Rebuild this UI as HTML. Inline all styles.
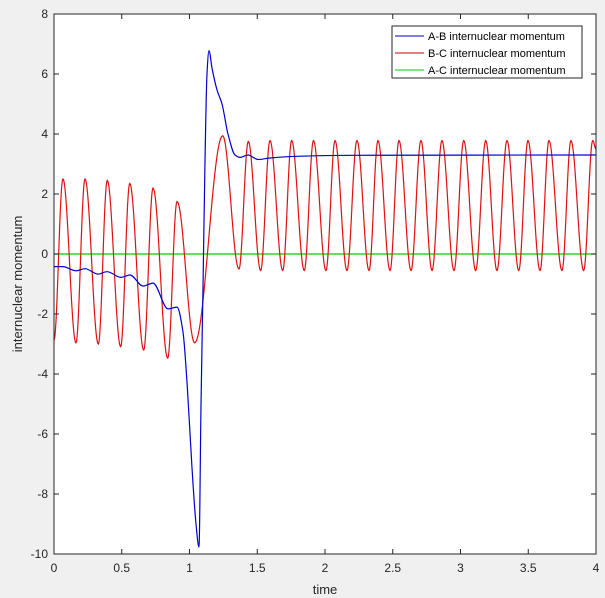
<!DOCTYPE html>
<html><head><meta charset="utf-8"><style>
html,body{margin:0;padding:0;background:#f0f0f0;}
svg{display:block;font-family:"Liberation Sans",Arial,sans-serif;}
</style></head><body>
<svg id="chart" width="605" height="598" viewBox="0 0 605 598" xmlns="http://www.w3.org/2000/svg">
<rect x="0" y="0" width="605" height="598" fill="#f0f0f0"/>
<rect x="54" y="14" width="542" height="540" fill="#fff"/>
<g id="series"></g>
<g id="axes"></g>
<text x="325" y="594" font-size="13" fill="#262626" text-anchor="middle">time</text>
<text x="0" y="0" font-size="13" fill="#262626" text-anchor="middle" transform="translate(22,284) rotate(-90)">internuclear momentum</text>
<g>
<rect x="392" y="26" width="190" height="52" fill="#fff" stroke="#262626" stroke-width="1"/>
<line x1="395" y1="36" x2="424" y2="36" stroke="#0000cc" stroke-width="1"/>
<text x="428" y="40" font-size="11" fill="#000">A-B internuclear momentum</text>
<line x1="395" y1="53" x2="424" y2="53" stroke="#cc0000" stroke-width="1"/>
<text x="428" y="57" font-size="11" fill="#000">B-C internuclear momentum</text>
<line x1="395" y1="70" x2="424" y2="70" stroke="#00cc00" stroke-width="1"/>
<text x="428" y="74" font-size="11" fill="#000">A-C internuclear momentum</text>
</g>
</svg>
<script>
const xTicks = [0,0.5,1,1.5,2,2.5,3,3.5,4];
const xTickLabels = ["0","0.5","1","1.5","2","2.5","3","3.5","4"];
const yTicks = [-10,-8,-6,-4,-2,0,2,4,6,8];
const yTickLabels = ["-10","-8","-6","-4","-2","0","2","4","6","8"];
// A-B momentum sample points (time, value)
const abTimes = [0,0.066,0.162,0.229,0.325,0.391,0.494,0.561,0.657,0.731,0.841,0.908,0.952,0.982,1.018,1.048,1.070,1.085,1.100,1.114,1.129,1.144,1.166,1.203,1.240,1.284,1.336,1.373,1.432,1.506,1.594,1.815,2.185,4.0];
const abValues = [-0.42,-0.42,-0.56,-0.49,-0.67,-0.59,-0.78,-0.70,-1.07,-0.97,-1.83,-1.77,-2.6,-4.3,-7.1,-9.0,-9.77,-5.0,-1.0,3.0,6.0,6.78,6.2,5.47,5.0,4.0,3.3,3.22,3.3,3.15,3.2,3.26,3.29,3.3];
// B-C momentum extrema (time, value)
const bcTimes = [0,0.066,0.162,0.229,0.327,0.393,0.492,0.559,0.662,0.731,0.839,0.908,1.038,1.245,1.365,1.434,1.525,1.594,1.688,1.754,1.847,1.915,2.007,2.074,2.162,2.236,2.325,2.391,2.480,2.546,2.635,2.708,2.790,2.863,2.952,3.024,3.112,3.186,3.269,3.343,3.430,3.498,3.587,3.653,3.749,3.815,3.909,3.976,4.0];
const bcValues = [-2.87,2.5,-2.96,2.5,-3.0,2.45,-3.09,2.35,-3.2,2.2,-3.47,1.75,-2.96,3.94,-0.5,3.75,-0.55,3.78,-0.55,3.78,-0.55,3.78,-0.55,3.78,-0.55,3.78,-0.55,3.78,-0.55,3.78,-0.55,3.78,-0.55,3.78,-0.55,3.78,-0.55,3.78,-0.55,3.78,-0.55,3.78,-0.55,3.78,-0.55,3.78,-0.55,3.78,3.5];
// A-C momentum
const acTimes = [0,4];
const acValues = [0,0];

const X0=54,X1=596,Y0=554,Y1=14;
const xScale = t => X0 + (t-0)/(4-0)*(X1-X0);
const yScale = v => Y0 - (v+10)/(18)*(Y0-Y1);
const NS="http://www.w3.org/2000/svg";
const series=document.getElementById('series');
const axes=document.getElementById('axes');

// monotone cubic (Fritsch-Carlson) path — no overshoot
function monotone(ts,vs){
  const n=ts.length, xs=ts.map(xScale), ys=vs.map(yScale);
  const d=[],m=new Array(n);
  for(let i=0;i<n-1;i++) d.push((ys[i+1]-ys[i])/(xs[i+1]-xs[i]));
  m[0]=d[0]; m[n-1]=d[n-2];
  for(let i=1;i<n-1;i++){
    if(d[i-1]*d[i]<=0) m[i]=0;
    else { const h0=xs[i]-xs[i-1],h1=xs[i+1]-xs[i];
      const w1=2*h1+h0,w2=h1+2*h0; m[i]=(w1+w2)/(w1/d[i-1]+w2/d[i]); }
  }
  let p="M"+xs[0].toFixed(2)+","+ys[0].toFixed(2);
  for(let i=0;i<n-1;i++){
    const h=(xs[i+1]-xs[i])/3;
    p+="C"+(xs[i]+h).toFixed(2)+","+(ys[i]+m[i]*h).toFixed(2)+" "+(xs[i+1]-h).toFixed(2)+","+(ys[i+1]-m[i+1]*h).toFixed(2)+" "+xs[i+1].toFixed(2)+","+ys[i+1].toFixed(2);
  }
  return p;
}
function cosPath(ts,vs){
  let d="";
  for(let i=0;i<ts.length-1;i++){
    const n=24;
    for(let k=(i===0?0:1);k<=n;k++){
      const f=k/n, t=ts[i]+(ts[i+1]-ts[i])*f;
      const w=(1-Math.cos(Math.PI*f))/2;
      const v=vs[i]+(vs[i+1]-vs[i])*w;
      d+=(d?"L":"M")+xScale(t).toFixed(2)+","+yScale(v).toFixed(2);
    }
  }
  return d;
}
function addPath(d,color,name){
  const p=document.createElementNS(NS,'path');
  p.setAttribute('d',d);p.setAttribute('fill','none');p.setAttribute('stroke',color);p.setAttribute('stroke-width','1.2');
  
  
  series.appendChild(p);
}
addPath(cosPath(acTimes,acValues),'#00d000','line-ac-momentum');
addPath(cosPath(bcTimes,bcValues),'#e01010','line-bc-momentum');
addPath(monotone(abTimes,abValues),'#0000d0','line-ab-momentum');

const frame=document.createElementNS(NS,'rect');
frame.setAttribute('x',X0);frame.setAttribute('y',Y1);frame.setAttribute('width',X1-X0);frame.setAttribute('height',Y0-Y1);
frame.setAttribute('fill','none');frame.setAttribute('stroke','#262626');frame.setAttribute('stroke-width','1');


axes.appendChild(frame);
function ln(x1,y1,x2,y2,name){
  const l=document.createElementNS(NS,'line');
  l.setAttribute('x1',x1);l.setAttribute('y1',y1);l.setAttribute('x2',x2);l.setAttribute('y2',y2);
  l.setAttribute('stroke','#262626');l.setAttribute('stroke-width','1');
  
  
  axes.appendChild(l);
}
function tx(x,y,s,anchor,name){
  const t=document.createElementNS(NS,'text');
  t.setAttribute('x',x);t.setAttribute('y',y);t.setAttribute('font-size','12');t.setAttribute('fill','#262626');t.setAttribute('text-anchor',anchor);
  t.textContent=s;
  
  
  axes.appendChild(t);
}
xTicks.forEach((t,i)=>{
  const x=xScale(t);
  ln(x,Y0,x,Y0-5,'x-tick');
  ln(x,Y1,x,Y1+5,'x-tick-top');
  tx(x,Y0+18,xTickLabels[i],'middle','x-tick-label');
});
yTicks.forEach((v,i)=>{
  const y=yScale(v);
  ln(X0,y,X0+5,y,'y-tick');
  ln(X1,y,X1-5,y,'y-tick-right');
  tx(X0-6,y+4,yTickLabels[i],'end','y-tick-label');
});
</script>
</body></html>
